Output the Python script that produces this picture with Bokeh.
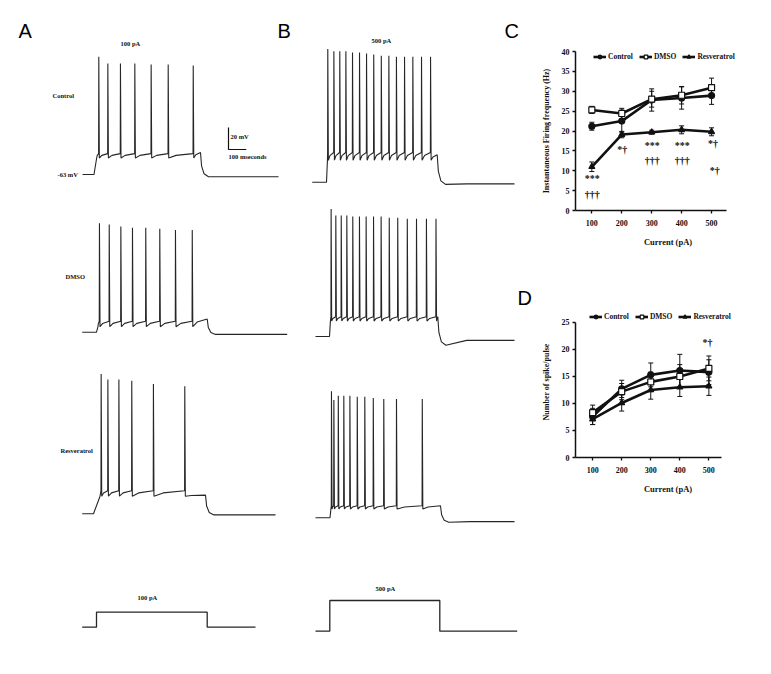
import numpy as np
from bokeh.plotting import figure
from bokeh.models import (Range1d, FixedTicker, Whisker, TeeHead, ColumnDataSource,
                          Legend, LegendItem)
from bokeh.layouts import row, column
from bokeh.embed import file_html
from bokeh.resources import INLINE
from bokeh.core.properties import value

SERIF = "Liberation Serif"
SANS = "Liberation Sans"
INK = "#111111"
TRACE = "#262626"

# ---------------- data: panel C (instantaneous firing frequency, Hz) ----------------
currents = [100, 200, 300, 400, 500]
freq_control = [21.2, 22.5, 27.8, 28.3, 28.9]
freq_control_err = [1.0, 2.8, 2.8, 2.8, 2.2]
freq_dmso = [25.3, 24.4, 28.0, 29.0, 30.9]
freq_dmso_err = [0.9, 1.3, 2.0, 2.2, 2.4]
freq_resv = [11.0, 19.1, 19.7, 20.3, 19.8]
freq_resv_err = [1.2, 0.8, 0.5, 1.0, 1.0]
freq_ticks = [0, 5, 10, 15, 20, 25, 30, 35, 40]
sig_c_x = [101, 101, 202, 302, 302, 402, 402, 505, 511]
sig_c_y = [8.0, 4.0, 15.3, 16.4, 12.7, 16.4, 12.7, 16.8, 10.0]
sig_c_text = ["***", "†††", "*†", "***", "†††", "***", "†††", "*†", "*†"]

# ---------------- data: panel D (number of spikes / pulse) ----------------
spk_control = [7.6, 12.7, 15.3, 16.1, 15.8]
spk_control_err = [1.5, 1.6, 2.2, 3.0, 2.3]
spk_dmso = [8.3, 12.2, 14.0, 15.0, 16.5]
spk_dmso_err = [1.4, 1.5, 1.8, 2.2, 2.3]
spk_resv = [7.1, 10.1, 12.5, 13.0, 13.2]
spk_resv_err = [1.0, 1.5, 1.7, 1.7, 1.7]
spk_ticks = [0, 5, 10, 15, 20, 25]
sig_d_x = [495]
sig_d_y = [21.3]
sig_d_text = ["*†"]

series_names = ["Control", "DMSO", "Resveratrol"]

# ---------------- data: voltage traces (spike times in ms from pulse onset, peaks in mV) ----------------
rest_mv = -63
pulse_ms = 600
a_ctrl_spk_ms = [27, 78, 149, 230, 322, 418, 559]
a_ctrl_spk_mv = [44, 38, 38, 38, 37, 37, 36]
a_dmso_spk_ms = [16, 69, 132, 195, 267, 343, 428, 519]
a_dmso_spk_mv = [36, 35, 33, 32, 32, 31, 30, 30]
a_resv_spk_ms = [41, 77, 136, 205, 321, 489]
a_resv_spk_mv = [64, 59, 59, 58, 55, 53]
b_ctrl_spk_ms = [7, 40, 72, 105, 141, 179, 217, 256, 297, 338, 379, 423, 468, 515, 564]
b_ctrl_spk_mv = [58, 56, 56, 56, 55, 55, 54, 53, 52, 52, 51, 51, 51, 51, 51]
b_dmso_spk_ms = [9, 35, 65, 96, 129, 166, 203, 244, 286, 331, 378, 431, 482, 537, 590]
b_dmso_spk_mv = [53, 47, 47, 47, 46, 46, 46, 46, 46, 45, 45, 44, 44, 44, 44]
b_resv_spk_ms = [8, 21, 45, 75, 108, 148, 189, 235, 292, 361, 501]
b_resv_spk_mv = [52, 44, 48, 48, 48, 47, 47, 46, 45, 45, 45]
# sub-threshold levels (mV): AHP trough, pre-spike, end of pulse, after pulse, end of sweep
a_ctrl_levels = [-48, -44, -43, -65, -65]
a_dmso_levels = [-58, -53, -51, -65, -65]
a_resv_levels = [-47, -42, -46, -64, -64]
b_ctrl_levels = [-43, -36, -38, -65, -64.5]
b_dmso_levels = [-49, -45, -45, -71, -66.5]
b_resv_levels = [-55, -52, -52, -67, -66.5]
# injected current steps (pA)
step_currents = [100, 500]

# ---------------- layout constants (page pixels) ----------------
MV_PX = 1.1
trace_layout = {
    "a_ctrl": dict(on=93.5, off=200.0, start=82.0, end=278.0, rest_y=174.0, rise=15),
    "a_dmso": dict(on=96.0, off=206.7, start=81.7, end=286.7, rest_y=331.7, rise=8),
    "a_resv": dict(on=93.0, off=205.0, start=81.7, end=275.0, rest_y=513.3, rise=35),
    "b_ctrl": dict(on=326.0, off=436.7, start=311.7, end=514.0, rest_y=181.7, rise=5),
    "b_dmso": dict(on=329.0, off=437.3, start=315.0, end=514.0, rest_y=336.0, rise=5),
    "b_resv": dict(on=329.5, off=440.0, start=315.0, end=514.0, rest_y=517.3, rise=5),
}
step_layout = [
    dict(on=96.0, off=206.7, start=81.7, end=255.0, zero_y=626.7, px_per_pa=0.15),
    dict(on=329.3, off=439.3, start=315.0, end=516.7, zero_y=630.7, px_per_pa=0.0614),
]


def build_trace(spk_ms, spk_mv, levels, lay):
    trough, thr, tail, after, final = levels
    sx = (lay["off"] - lay["on"]) / pulse_ms
    t0 = (lay["start"] - lay["on"]) / sx
    t1 = (lay["end"] - lay["on"]) / sx
    rise = lay["rise"]
    ts = [t0, 0.0, rise]
    vs = [rest_mv, rest_mv, trough]
    prev_t = rise
    for s, pk in zip(spk_ms, spk_mv):
        gap = s - 1.0 - prev_t
        if gap > 6:
            ts.append(prev_t + 0.3 * gap)
            vs.append(trough + 0.6 * (thr - trough))
        if s - 1.0 > prev_t:
            ts.append(s - 1.0)
            vs.append(thr)
        ts.append(s)
        vs.append(pk)
        ts.append(s + 3.0)
        vs.append(trough)
        prev_t = s + 3.0
    gap = pulse_ms - prev_t
    if gap > 6:
        ts.append(prev_t + 0.3 * gap)
        vs.append(trough + 0.6 * (tail - trough))
    ts += [pulse_ms, pulse_ms + 6, pulse_ms + 20, pulse_ms + 45, pulse_ms + 160, t1]
    vs += [tail, tail + 0.55 * (after - tail), tail + 0.88 * (after - tail), after, final, final]
    x = [lay["on"] + t * sx for t in ts]
    y = [lay["rest_y"] - (v - rest_mv) * MV_PX for v in vs]
    return x, y


W_CANVAS, H_ALL = 538, 670
canvas = figure(width=W_CANVAS, height=H_ALL, x_range=Range1d(0, W_CANVAS),
                y_range=Range1d(H_ALL, 0), x_axis_type=None, y_axis_type=None,
                output_backend="svg", toolbar_location=None, min_border=0,
                outline_line_color=None)

traces = [
    (a_ctrl_spk_ms, a_ctrl_spk_mv, a_ctrl_levels, trace_layout["a_ctrl"]),
    (a_dmso_spk_ms, a_dmso_spk_mv, a_dmso_levels, trace_layout["a_dmso"]),
    (a_resv_spk_ms, a_resv_spk_mv, a_resv_levels, trace_layout["a_resv"]),
    (b_ctrl_spk_ms, b_ctrl_spk_mv, b_ctrl_levels, trace_layout["b_ctrl"]),
    (b_dmso_spk_ms, b_dmso_spk_mv, b_dmso_levels, trace_layout["b_dmso"]),
    (b_resv_spk_ms, b_resv_spk_mv, b_resv_levels, trace_layout["b_resv"]),
]
for spk_ms, spk_mv, levels, lay in traces:
    x, y = build_trace(spk_ms, spk_mv, levels, lay)
    canvas.line(x, y, line_color=TRACE, line_width=1.1)

# current step traces
for amp, lay in zip(step_currents, step_layout):
    top = lay["zero_y"] - amp * lay["px_per_pa"]
    x = [lay["start"], lay["on"], lay["on"], lay["off"], lay["off"], lay["end"]]
    y = [lay["zero_y"], lay["zero_y"], top, top, lay["zero_y"], lay["zero_y"]]
    canvas.line(x, y, line_color=TRACE, line_width=1.3)

# scale bar: 20 mV, 100 ms
sb_x, sb_y = 228.0, 149.0
sx_a = (trace_layout["a_ctrl"]["off"] - trace_layout["a_ctrl"]["on"]) / pulse_ms
canvas.line([sb_x, sb_x, sb_x + 100 * sx_a], [sb_y - 20 * MV_PX, sb_y, sb_y], line_color=INK, line_width=1.2)

small_labels = ["100 pA", "Control", "-63 mV", "20 mV", "100 mseconds", "DMSO", "Resveratrol",
                "500 pA", "100 pA", "500 pA"]
small_label_pos = [(120, 43), (52, 95), (57, 174), (230, 136), (228, 156), (65, 276), (60, 450),
                   (371, 40), (137, 597), (375, 588)]
canvas.text(x=[p[0] for p in small_label_pos], y=[p[1] for p in small_label_pos], text=small_labels,
            text_font=value(SERIF), text_font_style="bold", text_font_size="6.5px",
            text_baseline="middle", text_align="left", text_color=INK)

panel_letters = ["A", "B", "C", "D"]
panel_letter_pos = [(18, 30), (277, 30), (504, 30), (517, 297)]
canvas.text(x=[p[0] for p in panel_letter_pos], y=[p[1] for p in panel_letter_pos], text=panel_letters,
            text_font=value(SANS), text_font_size="20px", text_baseline="middle",
            text_align="left", text_color="black")


def style_axes(p, ticks, ylabel, xbounds, ybounds):
    p.xgrid.visible = False
    p.ygrid.visible = False
    p.xaxis.ticker = FixedTicker(ticks=currents)
    p.yaxis.ticker = FixedTicker(ticks=ticks)
    p.xaxis.bounds = xbounds
    p.yaxis.bounds = ybounds
    p.xaxis.axis_label = "Current (pA)"
    p.yaxis.axis_label = ylabel
    for ax in (p.xaxis[0], p.yaxis[0]):
        ax.axis_line_width = 1.5
        ax.axis_line_color = INK
        ax.major_tick_line_width = 1.3
        ax.major_tick_line_color = INK
        ax.major_tick_out = 3
        ax.major_tick_in = 0
        ax.minor_tick_out = 0
        ax.minor_tick_in = 0
        ax.major_label_text_font = SERIF
        ax.major_label_text_font_style = "bold"
        ax.major_label_text_font_size = "8px"
        ax.major_label_text_color = INK
        ax.axis_label_text_font = SERIF
        ax.axis_label_text_font_style = "bold"
        ax.axis_label_text_color = INK
    p.xaxis.major_label_standoff = 6
    p.yaxis.major_label_standoff = 3
    p.xaxis.axis_label_text_font_size = "8.5px"
    p.yaxis.axis_label_text_font_size = "8px"
    p.xaxis.axis_label_standoff = 8
    p.yaxis.axis_label_standoff = 8


def add_series(p, ys, errs, marker, fill, legend_loc):
    items = []
    for name, y, e, mk, fc in zip(series_names, ys, errs, marker, fill):
        src = ColumnDataSource(dict(x=currents, y=y,
                                    upper=[a + b for a, b in zip(y, e)],
                                    lower=[a - b for a, b in zip(y, e)]))
        p.add_layout(Whisker(source=src, base="x", upper="upper", lower="lower",
                             line_color=INK, line_width=1,
                             upper_head=TeeHead(size=5, line_width=1, line_color=INK),
                             lower_head=TeeHead(size=5, line_width=1, line_color=INK)))
        ln = p.line("x", "y", source=src, line_color=INK, line_width=2.6)
        sc = p.scatter("x", "y", source=src, marker=mk, size=6, fill_color=fc,
                       line_color=INK, line_width=1.2)
        items.append(LegendItem(label=name, renderers=[ln, sc]))
    leg = Legend(items=items, orientation="horizontal", location=legend_loc,
                 border_line_color=None, background_fill_alpha=0, padding=0, margin=0,
                 spacing=6, glyph_width=13, glyph_height=9, label_height=9, label_standoff=2,
                 label_text_font=SERIF, label_text_font_style="bold",
                 label_text_font_size="7.5px", label_text_color=INK)
    p.add_layout(leg)


markers = ["circle", "square", "triangle"]
fills = [INK, "white", INK]
COL_W = 230

# ---------------- panel C ----------------
# frame: left x=571, right x=760, top y=51 (40 Hz), bottom y=210 (0 Hz)
pc = figure(width=COL_W, height=260, x_range=Range1d(45.4, 663.5), y_range=Range1d(0, 40),
            output_backend="svg", toolbar_location=None, min_border_left=33,
            min_border_right=8, min_border_top=51, min_border_bottom=50,
            outline_line_color=None)
style_axes(pc, freq_ticks, "Instantaneous Firing frequency (Hz)", (45.4, 549), (0, 40))
add_series(pc, [freq_control, freq_dmso, freq_resv],
           [freq_control_err, freq_dmso_err, freq_resv_err], markers, fills, (18, 149))
pc.text(x=sig_c_x, y=sig_c_y, text=sig_c_text, text_font=value(SERIF), text_font_style="bold",
        text_font_size="10px", text_align="center", text_baseline="middle", text_color=INK)

# ---------------- panel D ----------------
# frame: left x=569, right x=760, top y=306, bottom y=457 (0)
pd_ = figure(width=COL_W, height=242, x_range=Range1d(41, 677.7), y_range=Range1d(0, 27.96),
             output_backend="svg", toolbar_location=None, min_border_left=31,
             min_border_right=8, min_border_top=46, min_border_bottom=45,
             outline_line_color=None)
style_axes(pd_, spk_ticks, "Number of spike/pulse", (41, 544), (0, 25))
add_series(pd_, [spk_control, spk_dmso, spk_resv],
           [spk_control_err, spk_dmso_err, spk_resv_err], markers, fills, (14, 136))
pd_.text(x=sig_d_x, y=sig_d_y, text=sig_d_text, text_font=value(SERIF), text_font_style="bold",
         text_font_size="10px", text_align="center", text_baseline="middle", text_color=INK)

layout = row(canvas, column(pc, pd_))
open("out.html", "w").write(file_html(layout, INLINE))
